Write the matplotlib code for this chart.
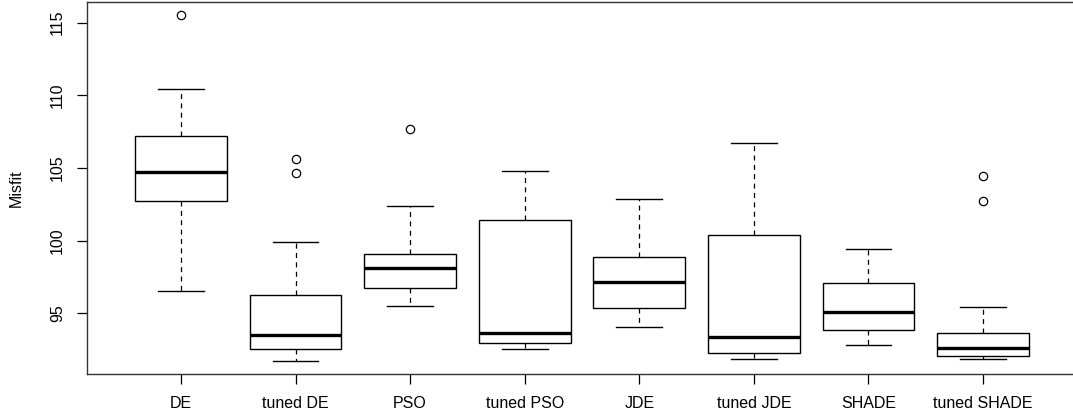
import matplotlib
matplotlib.use("Agg")
import matplotlib.pyplot as plt

categories = ["DE", "tuned DE", "PSO", "tuned PSO", "JDE", "tuned JDE", "SHADE", "tuned SHADE"]
whislo = [96.5, 91.74, 95.48, 92.52, 94.08, 91.83, 92.82, 91.85]
q1 = [102.7, 92.56, 96.72, 92.96, 95.39, 92.29, 93.85, 92.06]
med = [104.7, 93.49, 98.14, 93.64, 97.13, 93.37, 95.09, 92.61]
q3 = [107.2, 96.26, 99.1, 101.44, 98.85, 100.41, 97.09, 93.67]
whishi = [110.44, 99.91, 102.41, 104.77, 102.85, 106.72, 99.45, 95.43]
fliers = [[115.5], [105.6, 104.68], [107.68], [], [], [], [], [104.47, 102.73]]
yticks = [95, 100, 105, 110, 115]

plt.rcParams['font.family'] = ['Liberation Sans', 'DejaVu Sans']

fig = plt.figure(figsize=(10.73, 4.18), dpi=100)
ax = fig.add_axes([87/1073, 1 - 374/418, (1077 - 87)/1073, (374 - 2)/418])

stats = []
for i, c in enumerate(categories):
    stats.append(dict(label=c, whislo=whislo[i], q1=q1[i], med=med[i],
                      q3=q3[i], whishi=whishi[i], fliers=fliers[i]))

ax.bxp(stats, positions=range(1, len(categories) + 1), widths=0.8,
       patch_artist=True, showfliers=True,
       boxprops=dict(facecolor='white', edgecolor='black', linewidth=1.0),
       medianprops=dict(color='black', linewidth=2.4, solid_capstyle='butt'),
       whiskerprops=dict(color='black', linewidth=0.9, linestyle=(0, (4, 3.5))),
       capprops=dict(color='black', linewidth=1.0),
       capwidths=0.4,
       flierprops=dict(marker='o', markerfacecolor='none', markeredgecolor='black',
                       markersize=6, markeredgewidth=0.9))

ax.set_xlim(0.18, 8.82)
ax.set_ylim(90.82, 116.42)
ax.set_yticks(yticks)
ax.set_yticklabels([str(t) for t in yticks], rotation=90, va='center', fontsize=11.5)
ax.set_xticks(range(1, len(categories) + 1))
ax.set_xticklabels(categories, fontsize=11.5)
ax.tick_params(axis='both', length=7, width=0.9, color='black', pad=9)
ax.set_ylabel("Misfit", fontsize=11.5)
ax.yaxis.set_label_coords(-63/990, 0.5)
for s in ax.spines.values():
    s.set_linewidth(1.0)
    s.set_color('#333333')

fig.savefig("out.png", dpi=100)
